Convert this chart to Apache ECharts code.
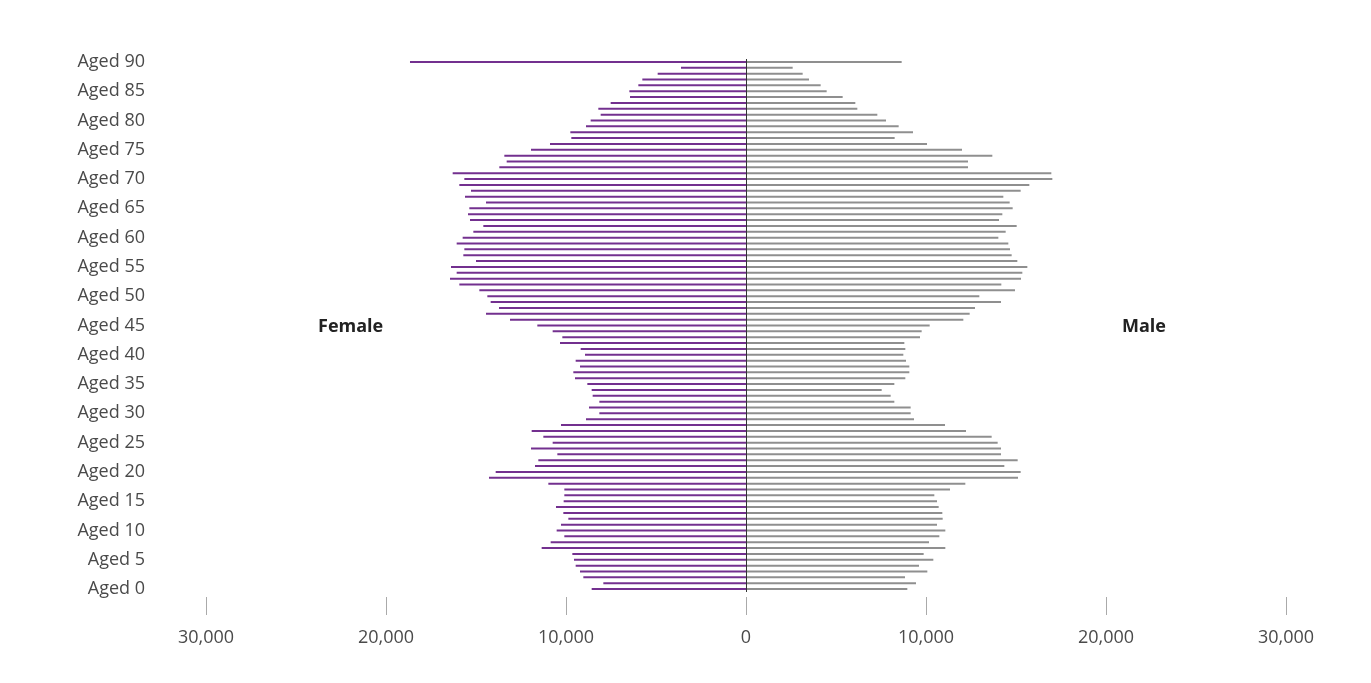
<!DOCTYPE html>
<html>
<head>
<meta charset="utf-8">
<script src="https://cdn.jsdelivr.net/npm/echarts@6/dist/echarts.min.js"></script>
<style>html,body{margin:0;padding:0;background:#fff}#c{width:1371px;height:683px}</style>
</head>
<body>
<div id="c"></div>
<script>
// Ages 0..90 (index = age)
const ages = [];
for (let a = 0; a <= 90; a++) ages.push('Aged ' + a);

const female = [
  8574, 7926, 9037, 9222, 9463, 9556, 9648, 11352, 10852, 10093,
  10519, 10278, 9870, 10148, 10556, 10130, 10093, 10093, 10981, 14278,
  13907, 11722, 11537, 10481, 11944, 10741, 11259, 11907, 10278, 8889,
  8148, 8722, 8148, 8519, 8574, 8815, 9500, 9593, 9222, 9463,
  8944, 9185, 10333, 10204, 10741, 11593, 13111, 14444, 13722, 14185,
  14370, 14815, 15926, 16444, 16074, 16389, 15000, 15704, 15648, 16074,
  15741, 15148, 14593, 15333, 15444, 15370, 14444, 15611, 15278, 15926,
  15648, 16296, 13704, 13296, 13426, 11944, 10889, 9704, 9759, 8889,
  8630, 8074, 8204, 7519, 6444, 6481, 5981, 5759, 4907, 3611,
  18667
];
const male = [
  8963, 9444, 8833, 10074, 9611, 10407, 9870, 11074, 10167, 10741,
  11074, 10611, 10926, 10907, 10704, 10611, 10463, 11333, 12185, 15111,
  15259, 14352, 15093, 14167, 14167, 13981, 13648, 12222, 11056, 9333,
  9148, 9148, 8241, 8037, 7537, 8241, 8852, 9074, 9074, 8889,
  8741, 8852, 8796, 9667, 9759, 10204, 12074, 12426, 12722, 14167,
  12963, 14944, 14185, 15278, 15352, 15630, 15074, 14759, 14667, 14574,
  14019, 14426, 15037, 14056, 14241, 14815, 14648, 14296, 15259, 15741,
  17019, 16963, 12333, 12333, 13685, 12000, 10056, 8259, 9278, 8481,
  7778, 7296, 6185, 6074, 5370, 4481, 4148, 3500, 3148, 2593,
  8648
];
const xTicks = [-30000, -20000, -10000, 0, 10000, 20000, 30000];

const chart = echarts.init(document.getElementById('c'), null, {renderer: 'canvas'});
const fontFam = '"Open Sans", Lato, "Noto Sans", sans-serif';
chart.setOption({
  animation: false,
  backgroundColor: '#ffffff',
  grid: {left: 206, right: 85, top: 59, height: 533},
  xAxis: {
    type: 'value',
    min: xTicks[0], max: xTicks[xTicks.length - 1], interval: 10000,
    offset: 5,
    axisLine: {show: false},
    axisTick: {show: true, length: 18, inside: false, lineStyle: {color: '#aaaaaa', width: 1}},
    splitLine: {show: false},
    axisLabel: {
      margin: 32, color: '#4a4a4a', fontSize: 18, fontFamily: fontFam,
      formatter: v => Math.abs(v).toLocaleString('en-US')
    }
  },
  yAxis: {
    type: 'category',
    data: ages,
    axisLine: {show: false},
    axisTick: {show: false},
    axisLabel: {
      margin: 61, color: '#4a4a4a', fontSize: 18, fontFamily: fontFam,
      interval: (i) => i % 5 === 0
    }
  },
  series: [
    {
      name: 'Female', type: 'bar', data: female.map(v => -v),
      barWidth: 2, barGap: '-100%',
      itemStyle: {color: '#73308f'},
      markLine: {
        silent: true, symbol: 'none', label: {show: false},
        lineStyle: {color: '#333333', width: 1, type: 'solid'},
        data: [{xAxis: 0}]
      }
    },
    {
      name: 'Male', type: 'bar', data: male,
      barWidth: 2,
      itemStyle: {color: '#8f8f8f'}
    }
  ],
  graphic: [
    {type: 'text', left: 318, top: 318, style: {text: 'Female', fontSize: 18, fontWeight: 'bold', fill: '#222222', fontFamily: fontFam}},
    {type: 'text', left: 1122, top: 318, style: {text: 'Male', fontSize: 18, fontWeight: 'bold', fill: '#222222', fontFamily: fontFam}}
  ]
});
</script>
</body>
</html>
